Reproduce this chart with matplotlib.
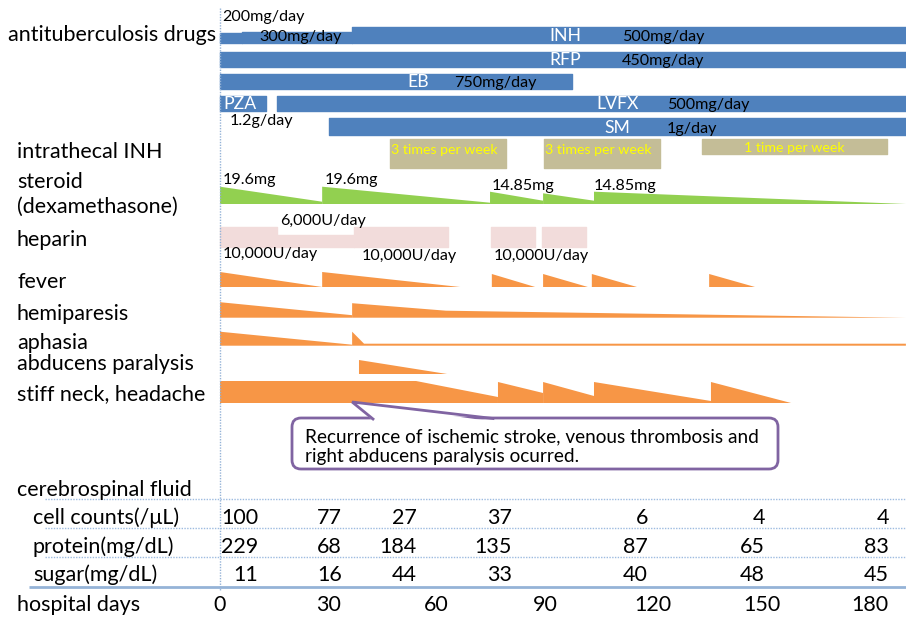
import matplotlib
matplotlib.use("Agg")
import matplotlib.pyplot as plt
from matplotlib.patches import FancyBboxPatch, Polygon

plt.rcParams['font.family'] = ['Lato', 'DejaVu Sans']

# ---------------- data (days) ----------------
inh_segments = [(0, 6.1), (6.1, 36.6), (36.6, 190)]
inh_doses = ['200mg/day', '300mg/day', '500mg/day']
rfp_segment = (0, 190)
eb_segment = (0, 97.5)
pza_segment = (0, 12.7)
lvfx_segment = (15.8, 190)
sm_segment = (30.2, 190)

intrathecal_periods = [(47.1, 79.2), (89.8, 121.9), (133.5, 184.8)]
intrathecal_freq = [3, 3, 1]
intrathecal_labels = ['3 times per week', '3 times per week', '1 time per week']

steroid_episodes = [
    [(0, 17.3), (28.3, 2.3)],
    [(28.3, 17.3), (74.8, 1.3)],
    [(74.8, 12.3), (89.5, 3.3)],
    [(89.5, 10.7), (103.6, 3.3)],
    [(103.6, 12.3), (190, 0)],
]
steroid_doses = ['19.6mg', '19.6mg', '14.85mg', '14.85mg']

heparin_periods = [(0, 15.8), (15.8, 37.1), (37.1, 63.2), (75.1, 87.3), (89.2, 101.4)]
heparin_doses = [10000, 6000, 10000, 10000, 10000]

fever = [
    [(0, 15), (28.3, 0)],
    [(28.3, 15), (66.5, 0)],
    [(75.3, 13), (87.3, 0)],
    [(89.5, 13), (101.9, 0)],
    [(103.0, 13), (115.5, 0)],
    [(135.5, 13), (148.2, 0)],
]
hemiparesis = [
    [(0, 15.5), (36.6, 2.5)],
    [(36.6, 14.5), (62.6, 7), (190, 0)],
]
aphasia = [
    [(0, 14), (36.6, 1)],
    [(36.6, 14), (39.9, 2), (190, 2)],
]
abducens = [
    [(38.5, 14), (62.9, 0)],
]
stiff_neck = [
    [(0, 22), (54.3, 22), (77.0, 6)],
    [(77.0, 21), (89.5, 10)],
    [(89.5, 21), (103.6, 7)],
    [(103.6, 21), (136.0, 2)],
    [(136.0, 21), (158.2, 0)],
]
recurrence_day = 36.6

csf_rows = ['cell counts(/\u03bcL)', 'protein(mg/dL)', 'sugar(mg/dL)']
cell_counts = [100, 77, 27, 37, 6, 4, 4]
protein = [229, 68, 184, 135, 87, 65, 83]
sugar = [11, 16, 44, 33, 40, 48, 45]
hospital_days = [0, 30, 60, 90, 120, 150, 180]

row_labels = ['antituberculosis drugs', 'intrathecal INH', 'steroid', '(dexamethasone)',
              'heparin', 'fever', 'hemiparesis', 'aphasia', 'abducens paralysis',
              'stiff neck, headache']

# ---------------- layout ----------------
W, H = 906, 622
DAY0_PX, PX_PER_DAY = 220, 3.61
BLUE, GREEN, ORANGE, PINK, TAN = '#4F81BD', '#92D050', '#F79646', '#F2DCDB', '#C4BD97'
PURPLE, GRID = '#8064A2', '#95B3D7'

fig = plt.figure(figsize=(W / 100, H / 100), dpi=100)
ax = fig.add_axes([0, 0, 1, 1])
ax.set_xlim(-DAY0_PX / PX_PER_DAY, (W - DAY0_PX) / PX_PER_DAY)
ax.set_ylim(H, 0)
ax.axis('off')
ov = fig.add_axes([0, 0, 1, 1])
ov.set_xlim(0, W)
ov.set_ylim(H, 0)
ov.axis('off')
renderer = fig.canvas.get_renderer()


def fit(s, target, **kw):
    t = ov.text(0, 0, s, fontsize=10, **kw)
    w = t.get_window_extent(renderer=renderer).width
    t.remove()
    return 10 * target / w


LBL = fit('antituberculosis drugs', 208)
SMALL = fit('200mg/day', 82)
WHITE = fit('LVFX', 42)
TANF = fit('3 times per week', 107)
TAB = fit('cerebrospinal fluid', 175)
CALL = fit('Recurrence of ischemic stroke, venous thrombosis and', 457)


def txt(s, x, y, size, ha='left', color='black', **kw):
    ov.text(x, y, s, fontsize=size, ha=ha, va='baseline', color=color, **kw)


# day-0 vertical dotted line
ax.vlines(0, 8, 590, color=GRID, lw=1, linestyles=(0, (1, 1)))

# ---- antituberculosis drugs ----
inh_thick = [10, 11, 16.6]
for (s, e), th in zip(inh_segments, inh_thick):
    ax.broken_barh([(s, e - s)], (43.3 - th, th), color=BLUE)
ax.broken_barh([(rfp_segment[0], rfp_segment[1] - rfp_segment[0])], (51.7, 15), color=BLUE)
ax.broken_barh([(eb_segment[0], eb_segment[1] - eb_segment[0])], (74, 15), color=BLUE)
ax.broken_barh([(pza_segment[0], pza_segment[1] - pza_segment[0])], (96, 15), color=BLUE)
ax.broken_barh([(lvfx_segment[0], lvfx_segment[1] - lvfx_segment[0])], (96, 15), color=BLUE)
ax.broken_barh([(sm_segment[0], sm_segment[1] - sm_segment[0])], (118.3, 16.7), color=BLUE)

txt(inh_doses[0], 222, 21, SMALL)
txt(inh_doses[1], 259, 41, SMALL)
txt(inh_doses[2], 622, 41, SMALL)
txt('450mg/day', 622, 65, SMALL)
txt('750mg/day', 454, 87, SMALL)
txt('500mg/day', 667, 109, SMALL)
txt('1.2g/day', 230, 125, SMALL)
txt('1g/day', 667, 133, SMALL)
txt('INH', 565, 41, WHITE, ha='center', color='white')
txt('RFP', 565, 65, WHITE, ha='center', color='white')
txt('EB', 418, 87, WHITE, ha='center', color='white')
txt('PZA', 223, 109, WHITE, color='white')
txt('LVFX', 618, 109, WHITE, ha='center', color='white')
txt('SM', 617, 133, WHITE, ha='center', color='white')

# ---- intrathecal INH ----
for (s, e), f, lab in zip(intrathecal_periods, intrathecal_freq, intrathecal_labels):
    h = 8 + 7 * f
    ax.broken_barh([(s, e - s)], (139.3, h), color=TAN)
txt(intrathecal_labels[0], 391, 154, TANF, color='#FFFF00')
txt(intrathecal_labels[1], 545, 154, TANF, color='#FFFF00')
txt(intrathecal_labels[2], 794, 152, TANF, ha='center', color='#FFFF00')


def draw_episodes(episodes, base, color):
    for ep in episodes:
        xs = [ep[0][0]] + [p[0] for p in ep] + [ep[-1][0]]
        ys = [base] + [base - p[1] for p in ep] + [base]
        ax.fill(xs, ys, color=color, lw=0)


# ---- steroid ----
draw_episodes(steroid_episodes, 204, GREEN)
txt(steroid_doses[0], 223, 184, SMALL)
txt(steroid_doses[1], 325, 184, SMALL)
txt(steroid_doses[2], 492, 190, SMALL)
txt(steroid_doses[3], 594, 190, SMALL)

# ---- heparin ----
for (s, e), dose in zip(heparin_periods, heparin_doses):
    h = dose * 0.00197
    ax.broken_barh([(s, e - s)], (246.5 - h, h), color=PINK)
txt('6,000U/day', 280, 225, SMALL)
txt('10,000U/day', 223, 258, SMALL)
txt('10,000U/day', 362, 260, SMALL)
txt('10,000U/day', 494, 260, SMALL)

# ---- symptoms ----
draw_episodes(fever, 287, ORANGE)
draw_episodes(hemiparesis, 317.7, ORANGE)
draw_episodes(aphasia, 345.7, ORANGE)
draw_episodes(abducens, 374, ORANGE)
draw_episodes(stiff_neck, 403, ORANGE)

# ---- row labels ----
label_pos = [(8, 41), (17, 158), (17, 188), (17, 213), (17, 246), (17, 288),
             (17, 320), (17, 349), (17, 370), (17, 400)]
for lab, (x, y) in zip(row_labels, label_pos):
    txt(lab, x, y, LBL)

# ---- callout ----
box = FancyBboxPatch((292, 418), 486, 51, boxstyle='round,pad=0,rounding_size=9',
                     facecolor='white', edgecolor=PURPLE, lw=2, zorder=5)
ov.add_patch(box)
tip_disp = ax.transData.transform((recurrence_day, 402))
tip = ov.transData.inverted().transform(tip_disp)
ov.add_patch(Polygon([(374, 421.5), tuple(tip), (493, 421.5)], closed=True,
                     facecolor='white', edgecolor='none', zorder=6))
ov.plot([373, tip[0], 493], [419, tip[1], 418.5], color=PURPLE, lw=2,
        solid_joinstyle='miter', zorder=7)
ov.text(305, 442, 'Recurrence of ischemic stroke, venous thrombosis and',
        fontsize=CALL, va='baseline', zorder=8)
ov.text(305, 462, 'right abducens paralysis ocurred.', fontsize=CALL, va='baseline', zorder=8)

# ---- CSF table ----
ov.hlines([499, 528, 557], 45, W, color='#9DBBE0', lw=1, linestyles=(0, (1, 1)))
ov.hlines(587, 29, W, color=GRID, lw=2)
txt('cerebrospinal fluid', 17, 496, TAB)
col_right = [258, 342, 417, 512, 648, 765, 889]
for row, vals, y in zip(csf_rows, [cell_counts, protein, sugar], [524, 553, 581]):
    txt(row, 33, y, TAB)
    for x, v in zip(col_right, vals):
        txt(str(v), x, y, TAB, ha='right')
txt('hospital days', 17, 611, TAB)
for d in hospital_days:
    ax.text(d, 611, str(d), fontsize=TAB, ha='center', va='baseline')

fig.savefig('out.png', dpi=100)
